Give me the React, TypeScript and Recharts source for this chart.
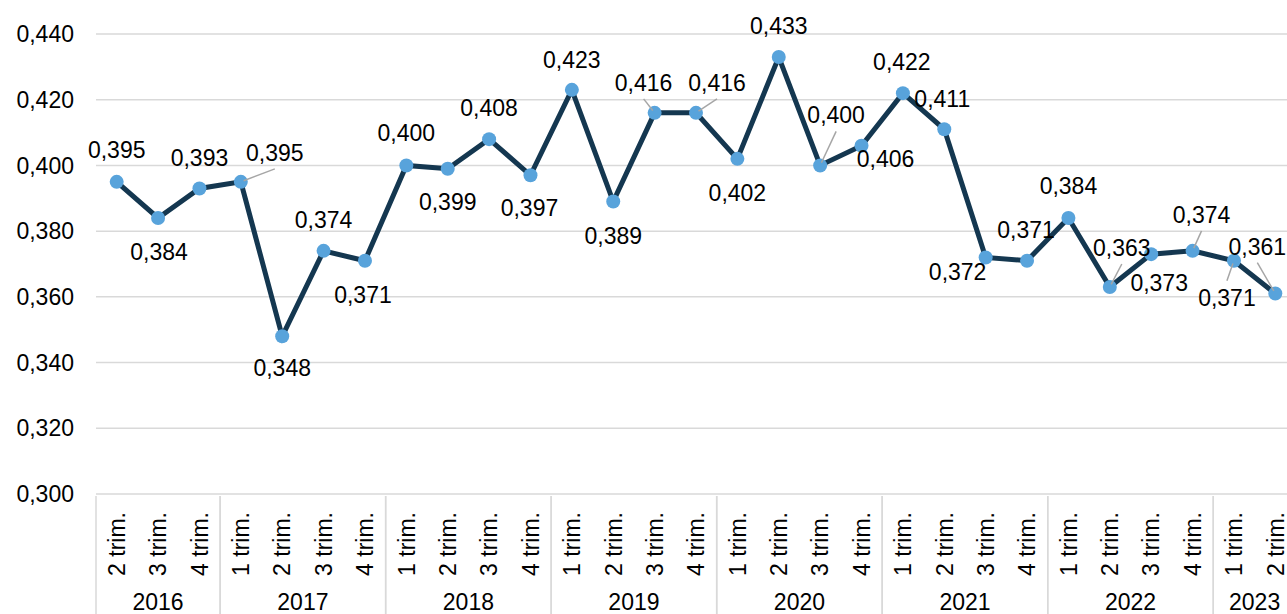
import { LineChart, Line, XAxis, YAxis, CartesianGrid, LabelList } from "recharts";

// quarterly values, 2016 Q2 .. 2023 Q2
const years = ["2016", "2016", "2016", "2017", "2017", "2017", "2017", "2018", "2018", "2018", "2018", "2019", "2019", "2019", "2019", "2020", "2020", "2020", "2020", "2021", "2021", "2021", "2021", "2022", "2022", "2022", "2022", "2023", "2023"];
const quarters = ["2 trim.", "3 trim.", "4 trim.", "1 trim.", "2 trim.", "3 trim.", "4 trim.", "1 trim.", "2 trim.", "3 trim.", "4 trim.", "1 trim.", "2 trim.", "3 trim.", "4 trim.", "1 trim.", "2 trim.", "3 trim.", "4 trim.", "1 trim.", "2 trim.", "3 trim.", "4 trim.", "1 trim.", "2 trim.", "3 trim.", "4 trim.", "1 trim.", "2 trim."];
const values = [0.395, 0.384, 0.393, 0.395, 0.348, 0.374, 0.371, 0.400, 0.399, 0.408, 0.397, 0.423, 0.389, 0.416, 0.416, 0.402, 0.433, 0.400, 0.406, 0.422, 0.411, 0.372, 0.371, 0.384, 0.363, 0.373, 0.374, 0.371, 0.361];
const yTicks = [0.3, 0.32, 0.34, 0.36, 0.38, 0.4, 0.42, 0.44];

// label placement relative to the point: [dx, dy, leader line]
const labelPlacement: [number, number, boolean][] = [
  [0, -32, false], [1, 34, false], [0, -30, false], [34, -29, true], [0, 32, false],
  [0, -31, false], [-2, 34, false], [0, -32, false], [0, 33, false], [0, -31, false],
  [-1, 33, false], [0, -30, false], [0, 34, false], [-11, -30, true], [21, -30, true],
  [0, 34, false], [0, -31, false], [16, -50, true], [24, 13, false], [-1, -31, false],
  [-2, -30, false], [-28, 15, false], [-1, -31, false], [0, -32, false], [12, -39, true],
  [8, 29, false], [9, -36, true], [-7, 37, true], [-18, -47, true],
];

const data = values.map((v, i) => ({ key: `${years[i]} ${quarters[i]}`, value: v }));

const W = 1296;
const H = 614;
const Y_AXIS_W = 96;
const X_AXIS_H = 120;
const BAND = (W - Y_AXIS_W) / data.length;
const FONT = "'Liberation Sans', Arial, sans-serif";
const fmt = (v: number) => v.toFixed(3).replace(".", ",");

const QuarterTick = (props: any) => {
  const { x, y, payload } = props;
  const i = payload.index;
  const first = i === 0 || years[i - 1] !== years[i];
  const last = i === data.length - 1 || years[i + 1] !== years[i];
  let size = 0;
  if (first) {
    while (i + size < years.length && years[i + size] === years[i]) size++;
  }
  return (
    <g>
      <text
        transform={`translate(${x},${y + 16}) rotate(-90)`}
        textAnchor="end"
        dy="0.36em"
        fontSize={23}
        fill="#000"
        fontFamily={FONT}
      >
        {quarters[i]}
      </text>
      {first && (
        <>
          <line x1={x - BAND / 2} x2={x - BAND / 2} y1={y} y2={y + X_AXIS_H} stroke="#d9d9d9" strokeWidth={1.5} />
          <text x={x + ((size - 1) * BAND) / 2} y={y + 114} textAnchor="middle" fontSize={23} fill="#000" fontFamily={FONT}>
            {years[i]}
          </text>
        </>
      )}
      {last && <line x1={x + BAND / 2} x2={x + BAND / 2} y1={y} y2={y + X_AXIS_H} stroke="#d9d9d9" strokeWidth={1.5} />}
    </g>
  );
};

const PointLabel = (props: any) => {
  const { x, y, value, index } = props;
  const [dx, dy, leader] = labelPlacement[index];
  const cx = x + dx;
  const cy = y + dy;
  let lead = null;
  if (leader) {
    const ex = cx;
    const ey = dy < 0 ? cy + 16 : cy - 17;
    const len = Math.hypot(ex - x, ey - y);
    const sx = x + ((ex - x) / len) * 3;
    const sy = y + ((ey - y) / len) * 3;
    lead = <line x1={sx} y1={sy} x2={ex} y2={ey} stroke="#a6a6a6" strokeWidth={1.5} />;
  }
  return (
    <g>
      {lead}
      <text x={cx} y={cy + 8} textAnchor="middle" fontSize={23} fill="#000" fontFamily={FONT}>
        {fmt(value)}
      </text>
    </g>
  );
};

export default function App() {
  return (
    <div style={{ position: "absolute", left: 0, top: 0, width: 1287, height: H, overflow: "hidden", background: "#fff", fontFamily: FONT }}>
      <LineChart width={W} height={H} data={data} margin={{ top: 34, right: 0, bottom: 0, left: 0 }}>
        <CartesianGrid vertical={false} stroke="#d9d9d9" strokeWidth={1.5} />
        <XAxis
          dataKey="key"
          interval={0}
          height={X_AXIS_H}
          axisLine={false}
          tickLine={false}
          tickSize={0}
          padding={{ left: BAND / 2, right: BAND / 2 }}
          tick={<QuarterTick />}
        />
        <YAxis
          domain={[0.3, 0.44]}
          ticks={yTicks}
          width={Y_AXIS_W}
          axisLine={false}
          tickLine={false}
          tickSize={0}
          tickMargin={22}
          tickFormatter={fmt}
          tick={{ fill: "#000", fontSize: 23, fontFamily: FONT }}
        />
        <Line
          type="linear"
          dataKey="value"
          stroke="#143750"
          strokeWidth={5}
          dot={{ r: 7, fill: "#58a3db", stroke: "none" }}
          activeDot={false}
          isAnimationActive={false}
        >
          <LabelList dataKey="value" content={<PointLabel />} />
        </Line>
      </LineChart>
    </div>
  );
}
